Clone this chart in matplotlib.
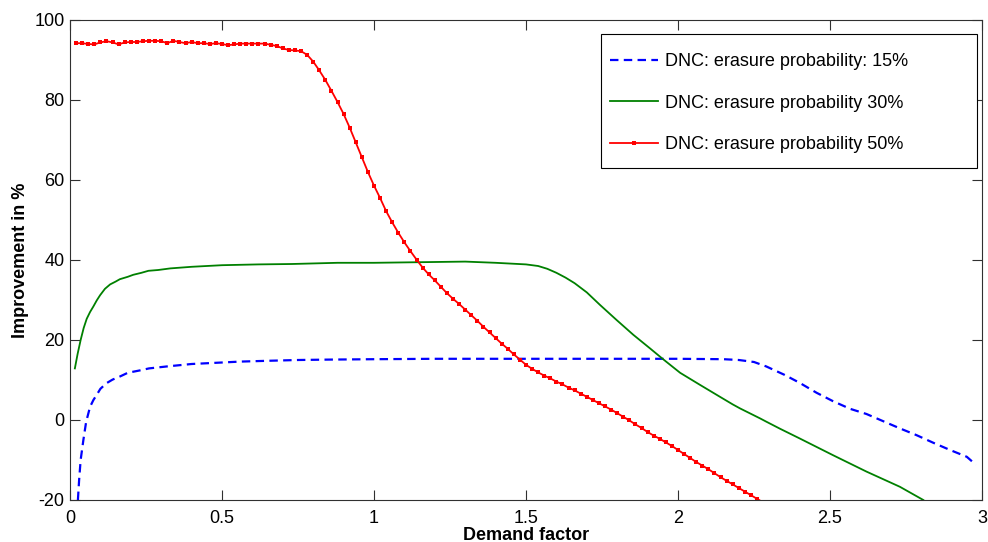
import matplotlib.pyplot as plt
from matplotlib.patches import Rectangle

plt.rcParams["font.family"] = ["Liberation Sans", "DejaVu Sans"]
plt.rcParams["axes.unicode_minus"] = False

# Demand factor sweep, 50% erasure (sampled every 0.02, drawn with markers)
red_demand = [
    0.02, 0.04, 0.06, 0.08, 0.10, 0.12, 0.14, 0.16, 0.18, 0.20,
    0.22, 0.24, 0.26, 0.28, 0.30, 0.32, 0.34, 0.36, 0.38, 0.40,
    0.42, 0.44, 0.46, 0.48, 0.50, 0.52, 0.54, 0.56, 0.58, 0.60,
    0.62, 0.64, 0.66, 0.68, 0.70, 0.72, 0.74, 0.76, 0.78, 0.80,
    0.82, 0.84, 0.86, 0.88, 0.90, 0.92, 0.94, 0.96, 0.98, 1.00,
    1.02, 1.04, 1.06, 1.08, 1.10, 1.12, 1.14, 1.16, 1.18, 1.20,
    1.22, 1.24, 1.26, 1.28, 1.30, 1.32, 1.34, 1.36, 1.38, 1.40,
    1.42, 1.44, 1.46, 1.48, 1.50, 1.52, 1.54, 1.56, 1.58, 1.60,
    1.62, 1.64, 1.66, 1.68, 1.70, 1.72, 1.74, 1.76, 1.78, 1.80,
    1.82, 1.84, 1.86, 1.88, 1.90, 1.92, 1.94, 1.96, 1.98, 2.00,
    2.02, 2.04, 2.06, 2.08, 2.10, 2.12, 2.14, 2.16, 2.18, 2.20,
    2.22, 2.24, 2.26, 2.28,
]
red_gain = [
    94.2, 94.2, 94.0, 93.9, 94.4, 94.7, 94.4, 93.9, 94.4, 94.5,
    94.5, 94.7, 94.8, 94.8, 94.7, 94.2, 94.8, 94.5, 94.2, 94.5,
    94.2, 94.2, 94.0, 94.2, 94.0, 93.7, 93.9, 94.1, 94.1, 94.1,
    94.1, 94.1, 93.8, 93.5, 92.9, 92.5, 92.4, 92.2, 91.3, 89.6,
    87.4, 85.0, 82.3, 79.5, 76.5, 73.1, 69.4, 65.7, 62.0, 58.6,
    55.5, 52.2, 49.4, 46.8, 44.4, 42.2, 40.1, 38.1, 36.4, 34.9,
    33.3, 31.7, 30.3, 29.0, 27.6, 26.2, 24.8, 23.3, 21.9, 20.5,
    19.1, 17.8, 16.4, 15.1, 13.8, 12.8, 11.9, 11.1, 10.4, 9.6,
    8.9, 8.1, 7.4, 6.6, 5.8, 5.0, 4.2, 3.4, 2.6, 1.7,
    0.8, -0.1, -1.1, -2.0, -3.0, -3.9, -4.7, -5.6, -6.5, -7.5,
    -8.5, -9.5, -10.5, -11.4, -12.3, -13.3, -14.3, -15.2, -16.1, -17.0,
    -17.9, -18.8, -19.7, -20.6,
]

# 15% erasure
blue_demand = [
    0.026, 0.030, 0.035, 0.044, 0.053, 0.066, 0.077, 0.088, 0.10, 0.12,
    0.14, 0.165, 0.19, 0.23, 0.26, 0.32, 0.40, 0.48, 0.56, 0.65,
    0.75, 0.85, 1.0, 1.2, 1.4, 1.6, 1.8, 2.0, 2.15, 2.20,
    2.25, 2.29, 2.35, 2.40, 2.456, 2.51, 2.566, 2.62, 2.675, 2.73,
    2.785, 2.84, 2.895, 2.95, 2.98,
]
blue_gain = [
    -20.0, -15.0, -10.0, -5.0, -0.5, 3.3, 5.0, 6.3, 7.8, 9.2,
    10.1, 10.9, 11.8, 12.4, 12.9, 13.4, 14.0, 14.3, 14.6, 14.8,
    15.0, 15.1, 15.2, 15.3, 15.3, 15.3, 15.3, 15.3, 15.2, 15.0,
    14.5, 13.4, 11.3, 9.3, 6.8, 4.7, 2.8, 1.5, -0.3, -2.1,
    -3.8, -5.7, -7.5, -9.2, -11.2,
]

# 30% erasure
green_demand = [
    0.016, 0.025, 0.035, 0.045, 0.055, 0.066, 0.077, 0.088, 0.099, 0.115,
    0.132, 0.15, 0.164, 0.19, 0.208, 0.235, 0.258, 0.29, 0.33, 0.40,
    0.50, 0.62, 0.73, 0.88, 1.0, 1.1, 1.2, 1.3, 1.4, 1.50,
    1.54, 1.57, 1.60, 1.63, 1.66, 1.70, 1.743, 1.798, 1.853, 1.908,
    1.951, 2.007, 2.072, 2.138, 2.18, 2.204, 2.27, 2.29, 2.336, 2.40,
    2.51, 2.62, 2.73, 2.807,
]
green_gain = [
    12.9, 16.5, 20.0, 23.0, 25.3, 27.0, 28.4, 29.9, 31.2, 32.8,
    33.9, 34.6, 35.2, 35.8, 36.3, 36.8, 37.3, 37.5, 37.9, 38.3,
    38.7, 38.9, 39.0, 39.3, 39.3, 39.4, 39.5, 39.6, 39.3, 38.9,
    38.5, 37.8, 36.8, 35.6, 34.2, 31.9, 28.8, 25.0, 21.3, 17.9,
    15.2, 11.8, 8.8, 5.8, 3.9, 2.9, 0.4, -0.4, -2.2, -4.6,
    -8.8, -12.9, -16.7, -20.0,
]

labels = [
    "DNC: erasure probability: 15%",
    "DNC: erasure probability 30%",
    "DNC: erasure probability 50%",
]
x_ticks = [0, 0.5, 1, 1.5, 2, 2.5, 3]
x_tick_labels = ["0", "0.5", "1", "1.5", "2", "2.5", "3"]
y_ticks = [-20, 0, 20, 40, 60, 80, 100]

fig = plt.figure(figsize=(9.88, 5.42), dpi=100)
ax = fig.add_axes([70 / 988, 1 - 500 / 542, 912 / 988, 480 / 542])

ax.plot(blue_demand, blue_gain, color="#0000FF", linestyle=(0, (3.8, 2.4)),
        linewidth=1.6, label=labels[0])
ax.plot(green_demand, green_gain, color="#008000", linewidth=1.3, label=labels[1])
ax.plot(red_demand, red_gain, color="#FF0000", linewidth=1.3, marker="s",
        markersize=2.5, markeredgewidth=0, label=labels[2])

ax.set_xlim(0, 3)
ax.set_ylim(-20, 100)
ax.set_xticks(x_ticks)
ax.set_xticklabels(x_tick_labels)
ax.set_yticks(y_ticks)

# MATLAB-like box: inward ticks on all four sides
ax.tick_params(direction="in", length=7, width=0.8, color="#303030",
               labelsize=13, top=True, right=True)
ax.tick_params(axis="x", pad=7)
ax.tick_params(axis="y", pad=4)
for spine in ax.spines.values():
    spine.set_color("#303030")
    spine.set_linewidth(0.8)

ax.set_xlabel("Demand factor", fontsize=13, fontweight="bold", labelpad=0)
ax.set_ylabel("Improvement in %", fontsize=13, fontweight="bold", labelpad=4)

# legend box is wider than its entries, so draw the frame separately
ax.add_patch(Rectangle((0.5822, 0.6917), 0.4123, 0.2792, transform=ax.transAxes,
                       facecolor="white", edgecolor="black", linewidth=0.8,
                       zorder=4))
ax.legend(loc="upper left", bbox_to_anchor=(0.5921, 0.9313), frameon=False,
          borderaxespad=0, borderpad=0, fontsize=13, handlelength=2.66,
          handletextpad=0.4, labelspacing=1.37)

fig.savefig("out.png", dpi=100)
